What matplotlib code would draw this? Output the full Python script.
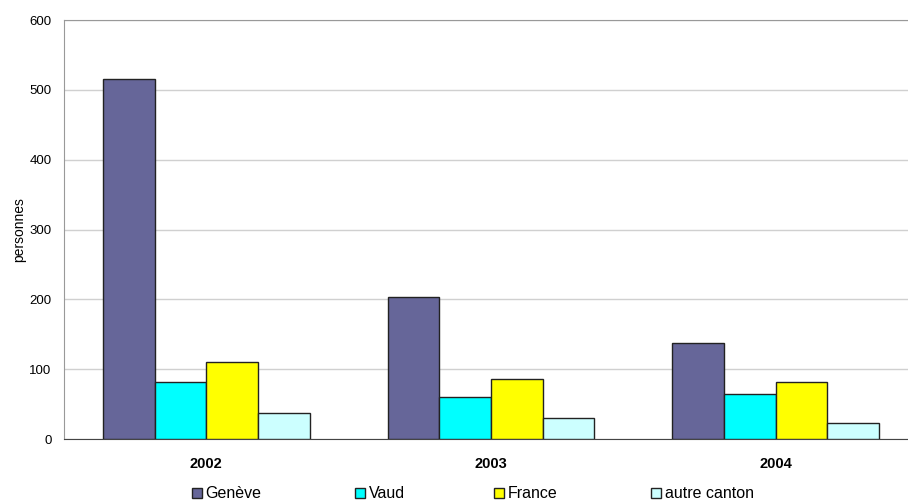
import matplotlib
matplotlib.use("Agg")
import matplotlib.pyplot as plt
import numpy as np

years = ["2002", "2003", "2004"]
series_names = ["Genève", "Vaud", "France", "autre canton"]
geneve = [515, 204, 138]
vaud = [81, 60, 64]
france = [110, 86, 81]
autre = [37, 30, 23]
colors = ["#666699", "#00FFFF", "#FFFF00", "#CCFFFF"]

plt.rcParams['font.family'] = ['Liberation Sans', 'DejaVu Sans']

fig = plt.figure(figsize=(9.08, 5.03), dpi=100)
ax = fig.add_axes([64/908, 64/503, 854/908, 419/503])

x = np.arange(len(years))
w = 0.1817
data = [geneve, vaud, france, autre]
handles = []
for i, (vals, name, c) in enumerate(zip(data, series_names, colors)):
    b = ax.bar(x + (i - 1.5) * w, vals, width=w, color=c, edgecolor="#222222",
               linewidth=1.0, label=name, zorder=3)
    handles.append(b)

ax.set_xlim(-0.5, 2.5)
ax.set_ylim(0, 600)
ax.set_yticks(range(0, 601, 100))
ax.set_xticks(x)
ax.set_xticklabels(years, fontweight="bold", fontsize=10.5)
ax.tick_params(axis="y", labelsize=9.5, length=0, pad=9)
ax.tick_params(axis="x", length=0, pad=13)
ax.yaxis.grid(True, color="#d0d0d0", linewidth=1.0, zorder=0)
ax.set_axisbelow(True)
for s in ["top", "left"]:
    ax.spines[s].set_color("#999999")
ax.spines["right"].set_visible(False)
ax.spines["bottom"].set_color("#444444")
ax.set_ylabel("personnes", fontsize=10, labelpad=2)

legend_x = [192, 355, 494, 651]
for h, name, lx in zip(handles, series_names, legend_x):
    fig.legend([h], [name], loc="center left",
               bbox_to_anchor=(lx/908, 1 - 494/503), frameon=False,
               fontsize=11.5, handlelength=0.65, handleheight=0.65,
               handletextpad=0.2, borderpad=0, borderaxespad=0)

fig.savefig("out.png", dpi=100)
